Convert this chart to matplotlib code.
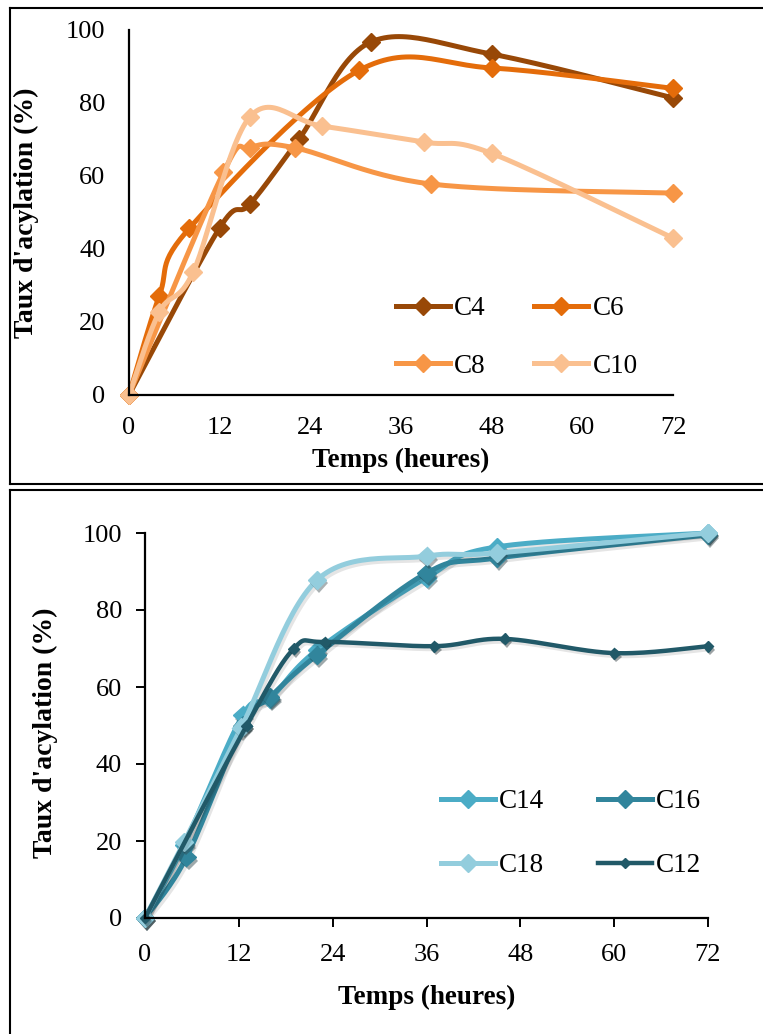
import numpy as np
import matplotlib
matplotlib.use("Agg")
import matplotlib.pyplot as plt
import matplotlib.patheffects as pe
from matplotlib.lines import Line2D

plt.rcParams['font.family'] = ['Liberation Serif', 'DejaVu Serif']

# top panel: C4 .. C10
t_c4 = [0, 12, 16, 22.5, 32, 48, 72]
y_c4 = [0, 45.8, 52.3, 70.1, 96.7, 93.4, 81.4]
t_c6 = [0, 4, 8, 30.5, 48, 72]
y_c6 = [0, 27.1, 45.7, 89.0, 89.6, 84.0]
t_c8 = [0, 12.5, 16, 22, 40, 72]
y_c8 = [0, 61.0, 67.7, 67.7, 57.8, 55.3]
t_c10 = [0, 4, 8.5, 16, 25.5, 39, 48, 72]
y_c10 = [0, 22.7, 33.7, 76.2, 73.7, 69.3, 66.2, 43.0]

# bottom panel: C12 .. C18
t_c14 = [0, 5, 12.5, 16, 22, 36, 45, 72]
y_c14 = [0, 19.0, 52.7, 57.0, 69.6, 88.4, 96.4, 100]
t_c16 = [0, 5.3, 12.5, 16, 22, 36, 45, 72]
y_c16 = [0, 15.8, 50.0, 57.4, 68.3, 89.6, 93.5, 99.5]
t_c18 = [0, 5, 12.3, 22, 36, 45, 72]
y_c18 = [0, 19.7, 49.4, 87.8, 94.0, 94.8, 100]
t_c12 = [0, 13, 19, 23, 37, 46, 60, 72]
y_c12 = [0, 50.0, 69.9, 71.7, 70.6, 72.5, 68.8, 70.6]

x_ticks = [0, 12, 24, 36, 48, 60, 72]
y_ticks = [0, 20, 40, 60, 80, 100]

N = 30


def smooth(x, y, n=N):
    # bezier through the points, like the "smoothed line" option of a spreadsheet
    p = np.column_stack([x, y]).astype(float)
    p = np.vstack([p[0], p, p[-1]])
    out = [p[1]]
    t = np.linspace(0, 1, n)[1:, None]
    for i in range(1, len(p) - 2):
        p0, p1, p2, p3 = p[i - 1], p[i], p[i + 1], p[i + 2]
        c1 = p1 + (p2 - p0) / 6
        c2 = p2 - (p3 - p1) / 6
        seg = (1 - t)**3 * p1 + 3 * (1 - t)**2 * t * c1 + 3 * (1 - t) * t**2 * c2 + t**3 * p2
        out.extend(seg)
    out = np.array(out)
    return out[:, 0], out[:, 1]


def draw(ax, x, y, color, lw, ms, shadow=False):
    sx, sy = smooth(x, y)
    line, = ax.plot(sx, sy, color=color, lw=lw, solid_capstyle='butt', clip_on=False)
    pts, = ax.plot(x, y, 'D', color=color, ms=ms, clip_on=False)
    if shadow:
        line.set_path_effects([pe.SimpleLineShadow(offset=(1.5, -2), alpha=0.1),
                               pe.Normal()])
        pts.set_path_effects([pe.SimplePatchShadow(offset=(1.5, -2.5), alpha=0.4),
                              pe.Normal()])
    return Line2D([], [], color=color, lw=lw, marker='D', ms=ms)


def style(ax, ticks_out):
    ax.set_xlim(0, 72)
    ax.set_ylim(0, 100)
    ax.set_xticks(x_ticks)
    ax.set_yticks(y_ticks)
    for s in ['top', 'right']:
        ax.spines[s].set_visible(False)
    for s in ['left', 'bottom']:
        ax.spines[s].set_linewidth(1.6)
    if ticks_out:
        ax.tick_params(direction='out', length=6.5, width=1.4, labelsize=19)
        ax.tick_params(axis='y', pad=10)
        ax.tick_params(axis='x', pad=12)
    else:
        ax.tick_params(length=0, labelsize=19)
        ax.tick_params(axis='y', pad=17)
        ax.tick_params(axis='x', pad=16)
    ax.set_xlabel("Temps (heures)", fontsize=19.5, fontweight='bold', labelpad=6)
    ax.set_ylabel("Taux d'acylation (%)", fontsize=20, fontweight='bold')


fig = plt.figure(figsize=(7.63, 10.34), dpi=100)

# panel frames
W, H = 763, 1034
frame = dict(color='black', lw=1.5, transform=fig.transFigure)
fig.add_artist(Line2D([10 / W, 10 / W], [1 - 8 / H, 1 - 484 / H], **frame))
fig.add_artist(Line2D([10 / W, 1], [1 - 8 / H, 1 - 8 / H], **frame))
fig.add_artist(Line2D([10 / W, 1], [1 - 484 / H, 1 - 484 / H], **frame))
fig.add_artist(Line2D([10 / W, 1], [1 - 490 / H, 1 - 490 / H], **frame))
fig.add_artist(Line2D([10 / W, 10 / W], [1 - 490 / H, 0], **frame))

ax1 = fig.add_axes([129 / W, 1 - 395 / H, 544 / W, 365 / H])
h4 = draw(ax1, t_c4, y_c4, '#984807', 3.6, 9.5)
h6 = draw(ax1, t_c6, y_c6, '#E46C0A', 3.6, 9.5)
h8 = draw(ax1, t_c8, y_c8, '#F79646', 3.6, 9.5)
h10 = draw(ax1, t_c10, y_c10, '#FAC090', 3.6, 9.5)
style(ax1, False)
ax1.yaxis.set_label_coords(-0.165, 0.5)
ax1.legend([h4, h8, h6, h10], ['C4', 'C8', 'C6', 'C10'], ncol=2, frameon=False,
           loc='upper left', bbox_to_anchor=(0.49, 0.27), borderaxespad=0, borderpad=0,
           fontsize=19.5, handlelength=2.0, handletextpad=0.15, labelspacing=1.2,
           columnspacing=1.8)

ax2 = fig.add_axes([145 / W, 1 - 918 / H, 563 / W, 385 / H])
h14 = draw(ax2, t_c14, y_c14, '#4BACC6', 3.6, 9.5, True)
h16 = draw(ax2, t_c16, y_c16, '#31859C', 3.6, 9.5, True)
h18 = draw(ax2, t_c18, y_c18, '#93CDDD', 3.6, 9.5, True)
h12 = draw(ax2, t_c12, y_c12, '#215968', 3.2, 5.5, True)
style(ax2, True)
ax2.xaxis.labelpad = 14
ax2.yaxis.set_label_coords(-0.155, 0.48)
ax2.legend([h14, h18, h16, h12], ['C14', 'C18', 'C16', 'C12'], ncol=2, frameon=False,
           loc='upper left', bbox_to_anchor=(0.525, 0.335), borderaxespad=0, borderpad=0,
           fontsize=19.5, handlelength=2.0, handletextpad=0.15, labelspacing=1.45,
           columnspacing=2.0)

fig.savefig("out.png", dpi=100)
